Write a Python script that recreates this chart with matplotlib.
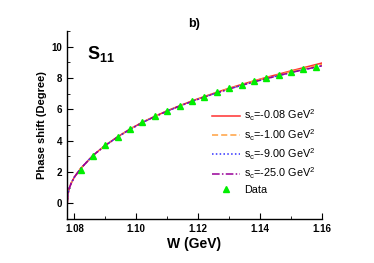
import matplotlib
matplotlib.use("Agg")
import matplotlib.pyplot as plt
from matplotlib.ticker import MultipleLocator

plt.rcParams['font.family'] = ['Liberation Sans', 'DejaVu Sans']
plt.rcParams['mathtext.fontset'] = 'custom'
plt.rcParams['mathtext.rm'] = 'Liberation Sans'
plt.rcParams['mathtext.it'] = 'Liberation Sans'
plt.rcParams['mathtext.bf'] = 'Liberation Sans:bold'

# data points (S11 phase shift)
w_data = [1.082, 1.086, 1.090, 1.094, 1.098, 1.102, 1.106, 1.110, 1.114, 1.118,
          1.122, 1.126, 1.130, 1.134, 1.138, 1.142, 1.146, 1.150, 1.154, 1.158]
delta_data = [2.15, 3.04, 3.72, 4.26, 4.77, 5.17, 5.55, 5.91, 6.23, 6.55,
              6.81, 7.09, 7.34, 7.55, 7.79, 8.00, 8.17, 8.38, 8.55, 8.68]

# curves
w_curve = [1.0777, 1.0779, 1.0783, 1.0790, 1.080, 1.082, 1.086, 1.090, 1.094,
           1.098, 1.102, 1.106, 1.110, 1.114, 1.118, 1.122, 1.126, 1.130,
           1.134, 1.138, 1.142, 1.146, 1.150, 1.154, 1.158, 1.160]
d_008 = [0.0, 0.55, 0.95, 1.3, 1.68, 2.22, 3.06, 3.71, 4.25, 4.75, 5.18, 5.56,
         5.91, 6.23, 6.54, 6.82, 7.09, 7.35, 7.59, 7.82, 8.04, 8.25, 8.46, 8.66,
         8.86, 8.96]
d_100 = [0.0, 0.55, 0.95, 1.3, 1.68, 2.22, 3.06, 3.71, 4.25, 4.75, 5.18, 5.56,
         5.91, 6.23, 6.53, 6.81, 7.08, 7.33, 7.57, 7.80, 8.01, 8.21, 8.41, 8.60,
         8.78, 8.86]
d_900 = [0.0, 0.55, 0.95, 1.3, 1.68, 2.22, 3.06, 3.70, 4.24, 4.73, 5.16, 5.54,
         5.89, 6.21, 6.51, 6.79, 7.05, 7.30, 7.53, 7.75, 7.96, 8.16, 8.35, 8.53,
         8.70, 8.78]
d_250 = [0.0, 0.55, 0.95, 1.3, 1.68, 2.22, 3.06, 3.70, 4.24, 4.73, 5.16, 5.54,
         5.89, 6.21, 6.51, 6.79, 7.05, 7.30, 7.53, 7.75, 7.96, 8.16, 8.35, 8.53,
         8.70, 8.78]

labels = [r'$\mathregular{s_c}$=-0.08 GeV$^\mathregular{2}$',
          r'$\mathregular{s_c}$=-1.00 GeV$^\mathregular{2}$',
          r'$\mathregular{s_c}$=-9.00 GeV$^\mathregular{2}$',
          r'$\mathregular{s_c}$=-25.0 GeV$^\mathregular{2}$']

fig = plt.figure(figsize=(3.74, 2.63), dpi=100)
ax = fig.add_axes([0.179, 0.167, 0.682, 0.715])

ax.plot(w_curve, d_008, color='#ff3030', lw=1.1, ls='-', label=labels[0])
ax.plot(w_curve, d_100, color='#ffa040', lw=1.1, ls=(0, (4, 2)), label=labels[1])
ax.plot(w_curve, d_900, color='#3030ff', lw=1.1, ls=(0, (1, 1.5)), label=labels[2])
ax.plot(w_curve, d_250, color='#990099', lw=1.1, ls=(0, (5, 1.5, 1, 1.5)), label=labels[3])
ax.plot(w_data, delta_data, ls='none', marker='^', ms=5, color='#00ee00',
        label='Data')

ax.set_xlim(1.0776, 1.16)
ax.set_ylim(-1, 11)
ax.xaxis.set_minor_locator(MultipleLocator(0.01))
ax.yaxis.set_major_locator(MultipleLocator(2))
ax.yaxis.set_minor_locator(MultipleLocator(1))
ax.set_xticks([1.08, 1.10, 1.12, 1.14, 1.16])
ax.set_xticklabels(['1.08', '1.10', '1.12', '1.14', '1.16'])

for side in ['top', 'right']:
    ax.spines[side].set_visible(False)
for side in ['left', 'bottom']:
    ax.spines[side].set_linewidth(1.0)
ax.tick_params(which='both', direction='in', labelsize=7)
ax.tick_params(which='major', length=4)
ax.tick_params(which='minor', length=2)
for lab in ax.get_xticklabels() + ax.get_yticklabels():
    lab.set_fontweight('bold')

ax.set_xlabel('W (GeV)', fontsize=10, fontweight='bold', labelpad=2)
ax.set_ylabel('Phase shift (Degree)', fontsize=8, fontweight='bold', labelpad=3)
ax.set_title('b)', fontsize=9, fontweight='bold', pad=3)
ax.text(0.08, 0.93, r'$\mathbf{S_{11}}$', transform=ax.transAxes,
        fontsize=13, va='top')

ax.legend(loc='upper left', bbox_to_anchor=(0.53, 0.645), frameon=False,
          fontsize=7.8, handlelength=2.6, handletextpad=0.4, labelspacing=0.35)

fig.savefig('out.png', dpi=100)
